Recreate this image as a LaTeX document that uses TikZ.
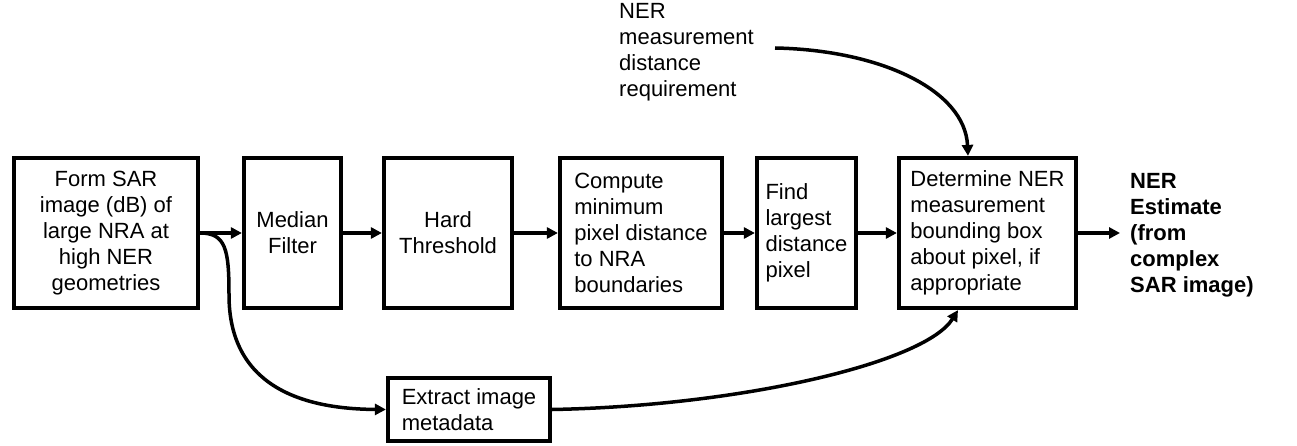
\documentclass[tikz,border=0pt]{standalone}
\usepackage{fontspec}
\setmainfont{Liberation Sans}
\usetikzlibrary{arrows.meta}
\begin{document}
\begin{tikzpicture}[x=1pt,y=-1pt,
  txt/.style={font=\fontsize{22}{26}\selectfont},
  box/.style={txt, draw, line width=4.2pt, minimum height=150pt, inner sep=0pt},
  lbox/.style={box, align=left},
  cbox/.style={box, align=center},
  lbl/.style={txt, align=left, inner sep=0pt},
  arr/.style={line width=3.5pt, -{Triangle[length=11pt,width=11pt]}}]
\useasboundingbox (0,0) rectangle (1297,446);
\node[cbox, minimum width=184pt] (b1) at (106,233) {Form SAR\\image (dB) of\\large NRA at\\high NER\\geometries};
\node[cbox, minimum width=97pt] (b2) at (292.5,233) {Median\\Filter};
\node[cbox, minimum width=128pt] (b3) at (448,233) {Hard\\Threshold};
\node[lbox, minimum width=162pt] (b4) at (641,233) {Compute\\minimum\\pixel distance\\to NRA\\boundaries};
\node[lbox, minimum width=99pt] (b5) at (806.5,233) {Find\\largest\\distance\\pixel};
\node[lbox, minimum width=177pt] (b6) at (987.5,233) {Determine NER\\measurement\\bounding box\\about pixel, if\\appropriate};
\node[lbox, minimum width=162pt, minimum height=63pt] (ex) at (469,409.5) {Extract image\\metadata};
\node[lbl, anchor=west] (req) at (619,52) {NER\\measurement\\distance\\requirement};
\node[lbl, anchor=west, font=\fontsize{22}{26}\selectfont\bfseries] (est) at (1130,235) {NER\\Estimate\\(from\\complex\\SAR image)};
\coordinate (rs) at (775,48);
\coordinate (out) at (1120,233);
\draw[arr] (b1.east) -- (b2.west);
\draw[arr] (b2.east) -- (b3.west);
\draw[arr] (b3.east) -- (b4.west);
\draw[arr] (b4.east) -- (b5.west);
\draw[arr] (b5.east) -- (b6.west);
\draw[arr] (b6.east) -- (out);
\draw[arr] (rs) .. controls (880,50) and (965,90) .. ([xshift=-19.5pt]b6.north);
\draw[arr] (ex.east) .. controls (740,406) and (925,363) .. ([xshift=-29.5pt]b6.south);
\draw[arr] (b1.east) .. controls (226,233) and (229,250) .. (229,295) .. controls (229,385) and (300,409) .. (ex.west);
\end{tikzpicture}
\end{document}
